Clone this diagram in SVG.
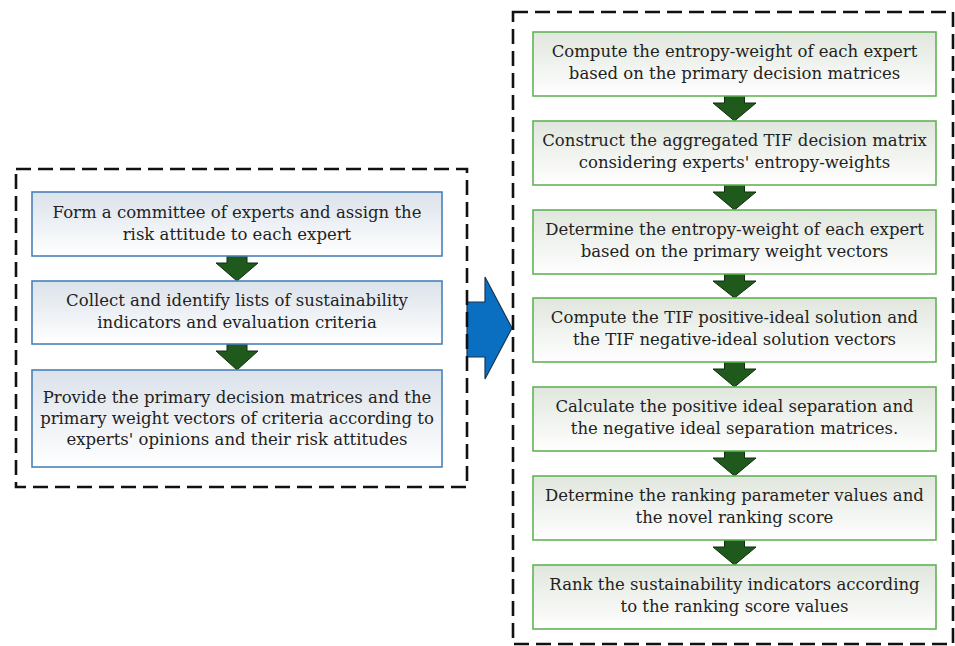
<svg xmlns="http://www.w3.org/2000/svg" width="955" height="646" viewBox="0 0 955 646">
  <defs>
    <linearGradient id="gBlue" x1="0" y1="0" x2="0" y2="1">
      <stop offset="0" stop-color="#dbe2ea"/>
      <stop offset="1" stop-color="#ffffff"/>
    </linearGradient>
    <linearGradient id="gGreen" x1="0" y1="0" x2="0" y2="1">
      <stop offset="0" stop-color="#e0e6dd"/>
      <stop offset="1" stop-color="#ffffff"/>
    </linearGradient>
  </defs>
  <style>
    .frame { fill: none; stroke: #111; stroke-width: 2.6; stroke-dasharray: 15 7; }
    .boxB { fill: url(#gBlue); stroke: #4a81b8; stroke-width: 1.6; }
    .boxG { fill: url(#gGreen); stroke: #62b356; stroke-width: 1.6; }
    .step { fill: #1f5a1c; stroke: #0f2e0e; stroke-width: 1; }
    .big { fill: #0b6fc1; stroke: #1b3550; stroke-width: 1.2; }
    text { font-family: "DejaVu Serif", "Liberation Serif", serif; font-size: 16.5px; fill: #222; text-anchor: middle; }
  </style>

  <!-- transition arrow between the two stages -->
  <g id="transition">
    <polygon class="big" points="467,302 485,302 485,277 512,328 485,379 485,357 467,357"/>
  </g>

  <!-- stage frames -->
  <rect id="stage1" class="frame" x="16" y="169" width="451" height="318"/>
  <rect id="stage2" class="frame" x="513" y="12" width="440" height="632"/>

  <!-- step connectors -->
  <g id="connectors">
    <polygon class="step" points="227,256 247,256 247,263 258,263 237,281 216,263 227,263"/>
    <polygon class="step" points="227,344 247,344 247,351 258,351 237,370 216,351 227,351"/>

    <polygon class="step" points="724.5,96 744.5,96 744.5,103 756,103 734.5,121 713,103 724.5,103"/>
    <polygon class="step" points="724.5,185 744.5,185 744.5,192 756,192 734.5,210 713,192 724.5,192"/>
    <polygon class="step" points="724.5,274 744.5,274 744.5,281 756,281 734.5,298 713,281 724.5,281"/>
    <polygon class="step" points="724.5,362 744.5,362 744.5,369 756,369 734.5,387 713,369 724.5,369"/>
    <polygon class="step" points="724.5,451 744.5,451 744.5,458 756,458 734.5,476 713,458 724.5,458"/>
    <polygon class="step" points="724.5,540 744.5,540 744.5,547 756,547 734.5,565 713,547 724.5,547"/>
  </g>

  <!-- stage 1 steps -->
  <g id="l1">
    <rect class="boxB" x="32" y="192" width="410" height="64"/>
    <text x="237" y="218">Form a committee of experts and assign the</text>
    <text x="237" y="240">risk attitude to each expert</text>
  </g>
  <g id="l2">
    <rect class="boxB" x="32" y="281" width="410" height="63"/>
    <text x="237" y="306">Collect and identify lists of sustainability</text>
    <text x="237" y="328">indicators and evaluation criteria</text>
  </g>
  <g id="l3">
    <rect class="boxB" x="32" y="370" width="410" height="97"/>
    <text x="237" y="403">Provide the primary decision matrices and the</text>
    <text x="237" y="424">primary weight vectors of criteria according to</text>
    <text x="237" y="445">experts' opinions and their risk attitudes</text>
  </g>

  <!-- stage 2 steps -->
  <g id="r1">
    <rect class="boxG" x="533" y="32" width="403" height="64"/>
    <text x="734.5" y="57">Compute the entropy-weight of each expert</text>
    <text x="734.5" y="79">based on the primary decision matrices</text>
  </g>
  <g id="r2">
    <rect class="boxG" x="533" y="121" width="403" height="64"/>
    <text x="734.5" y="146">Construct the aggregated TIF decision matrix</text>
    <text x="734.5" y="168">considering experts' entropy-weights</text>
  </g>
  <g id="r3">
    <rect class="boxG" x="533" y="210" width="403" height="64"/>
    <text x="734.5" y="235">Determine the entropy-weight of each expert</text>
    <text x="734.5" y="257">based on the primary weight vectors</text>
  </g>
  <g id="r4">
    <rect class="boxG" x="533" y="298" width="403" height="64"/>
    <text x="734.5" y="323">Compute the TIF positive-ideal solution and</text>
    <text x="734.5" y="345">the TIF negative-ideal solution vectors</text>
  </g>
  <g id="r5">
    <rect class="boxG" x="533" y="387" width="403" height="64"/>
    <text x="734.5" y="412">Calculate the positive ideal separation and</text>
    <text x="734.5" y="434">the negative ideal separation matrices.</text>
  </g>
  <g id="r6">
    <rect class="boxG" x="533" y="476" width="403" height="64"/>
    <text x="734.5" y="501">Determine the ranking parameter values and</text>
    <text x="734.5" y="523">the novel ranking score</text>
  </g>
  <g id="r7">
    <rect class="boxG" x="533" y="565" width="403" height="64"/>
    <text x="734.5" y="590">Rank the sustainability indicators according</text>
    <text x="734.5" y="612">to the ranking score values</text>
  </g>
</svg>
